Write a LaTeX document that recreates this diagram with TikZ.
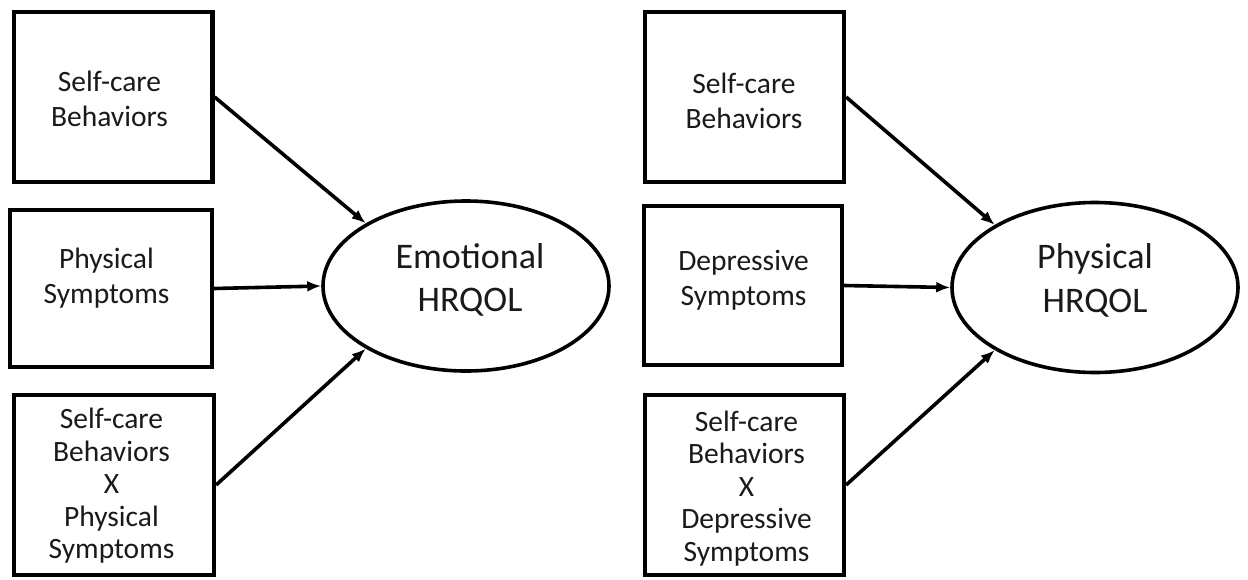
\documentclass[tikz,border=0pt]{standalone}
\usepackage{fontspec}
\setmainfont{Carlito}
\usetikzlibrary{arrows.meta,shapes.geometric}
\definecolor{txt}{HTML}{1A1A1A}
\tikzset{
  boxnode/.style={draw, line width=4.2pt, inner sep=0pt},
  latent/.style={draw, ellipse, line width=3.6pt, inner sep=0pt,
    minimum width=286pt, minimum height=170pt},
  boxtext/.style={align=center, inner sep=0pt, text=txt, font=\fontsize{29.5pt}{35pt}\selectfont},
  boxtextb/.style={align=center, inner sep=0pt, text=txt, font=\fontsize{29.5pt}{32.5pt}\selectfont},
  lattext/.style={align=center, inner sep=0pt, text=txt, font=\fontsize{36pt}{43.5pt}\selectfont},
  path/.style={line width=3.6pt, -{Latex[length=14pt,width=11pt]}}
}
\begin{document}
\begin{tikzpicture}[x=1pt,y=-1pt]
\useasboundingbox[fill=white] (0,0) rectangle (1248,579);
% left panel
\node[boxnode, minimum width=198.5pt, minimum height=170pt] (L1) at (113.25,97) {};
\node[boxnode, minimum width=202pt, minimum height=157pt] (L2) at (111,288.5) {};
\node[boxnode, minimum width=200pt, minimum height=180pt] (L3) at (114,485) {};
\node[latent] (E1) at (466,286) {};
\node[boxtext] (L1t) at (109.5,98.5) {Self-care\\Behaviors};
\node[boxtext] (L2t) at (106.5,278.5) {Physical\\Symptoms};
\node[boxtextb] (L3t) at (111.5,486) {Self-care\\Behaviors\\X\\Physical\\Symptoms};
\node[lattext] (E1t) at (470,280) {Emotional\\HRQOL};
\draw[path] (L1.east) -- (E1.148);
\draw[path] (L2.east) -- (E1.west);
\draw[path] (L3.east) -- (E1.212);
% right panel
\node[boxnode, minimum width=199pt, minimum height=170pt] (R1) at (744.5,97) {};
\node[boxnode, minimum width=198pt, minimum height=159pt] (R2) at (743,285.5) {};
\node[boxnode, minimum width=199pt, minimum height=180pt] (R3) at (744.5,485) {};
\node[latent] (E2) at (1095,287.5) {};
\node[boxtext] (R1t) at (744,100.5) {Self-care\\Behaviors};
\node[boxtext] (R2t) at (743.5,280) {Depressive\\Symptoms};
\node[boxtextb] (R3t) at (746.5,488.5) {Self-care\\Behaviors\\X\\Depressive\\Symptoms};
\node[lattext] (E2t) at (1095,280.5) {Physical\\HRQOL};
\draw[path] (R1.east) -- (E2.148);
\draw[path] (R2.east) -- (E2.west);
\draw[path] (R3.east) -- (E2.212);
\end{tikzpicture}
\end{document}
